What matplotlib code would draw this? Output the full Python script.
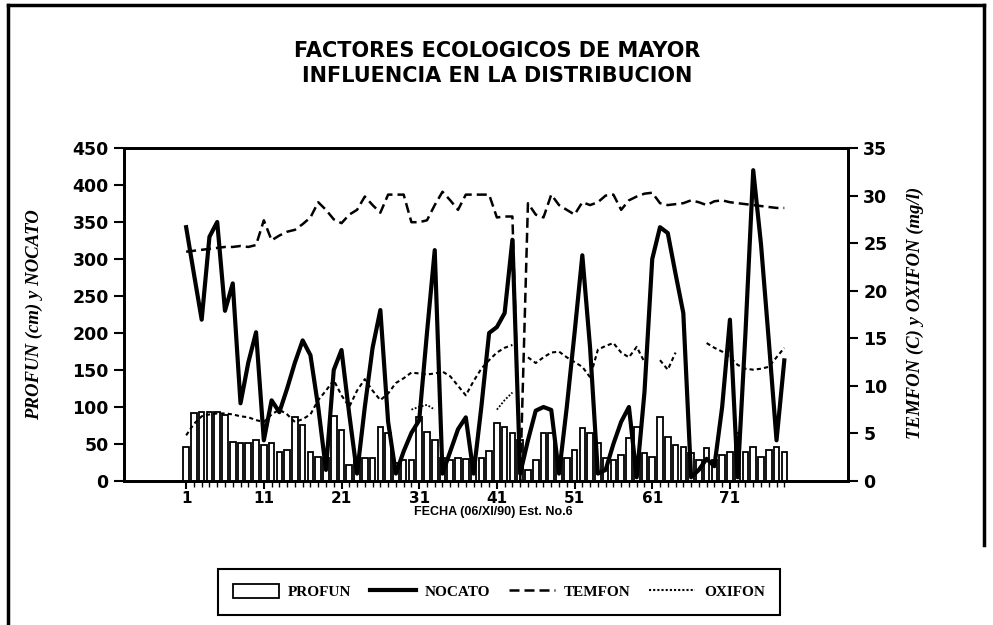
import matplotlib
matplotlib.use('Agg')
import matplotlib.pyplot as plt
import numpy as np
from matplotlib.lines import Line2D
from matplotlib.patches import Patch
from matplotlib import font_manager

nan = np.nan

FECHA = list(range(1, 79))
XTICKS = [1, 11, 21, 31, 41, 51, 61, 71]

PROFUN = [46, 92, 93, 93, 93, 89, 53, 51, 51, 55,
          49, 51, 39, 42, 87, 76, 39, 32, 31, 88,
          69, 22, 31, 31, 31, 73, 65, 25, 28, 28,
          86, 66, 55, 31, 28, 31, 30, 31, 31, 40,
          78, 73, 65, 55, 15, 28, 65, 65, 31, 31,
          42, 72, 65, 51, 31, 28, 35, 58, 73, 38,
          32, 86, 59, 49, 46, 38, 28, 45, 28, 35,
          39, 65, 39, 46, 32, 42, 46, 39]

NOCATO = [343, 280, 218, 330, 350, 230, 267, 105, 160, 201,
          55, 109, 93, 125, 160, 190, 170, 100, 15, 150,
          177, 90, 10, 100, 180, 231, 80, 10, 40, 65,
          82, 200, 312, 10, 40, 70, 86, 10, 100, 200,
          208, 227, 326, 10, 55, 95, 100, 96, 10, 100,
          200, 305, 180, 10, 15, 50, 80, 100, 5, 120,
          300, 343, 335, 280, 227, 5, 15, 30, 20, 100,
          218, 5, 200, 420, 320, 190, 55, 163]

TEMFON = [24.1, 24.2, 24.3, 24.4, 24.5, 24.6, 24.6, 24.7, 24.6, 24.8,
          27.4, 25.3, 25.8, 26.2, 26.4, 27.0, 27.7, 29.3, 28.5, 27.5,
          27.1, 28.0, 28.5, 29.9, 29.0, 28.2, 30.1, 30.1, 30.1, 27.2,
          27.2, 27.4, 29.0, 30.4, 29.5, 28.5, 30.1, 30.1, 30.1, 30.1,
          27.7, 27.8, 27.8, 0.0, 29.2, 28.0, 27.7, 30.1, 29.0, 28.5,
          28.0, 29.3, 29.0, 29.3, 30.0, 30.1, 28.5, 29.5, 29.9, 30.2,
          30.3, 29.2, 29.0, 29.1, 29.2, 29.5, 29.3, 29.0, 29.4, 29.5,
          29.3, 29.2, 29.1, 29.0, 28.9, 28.8, 28.7, 28.7]

OXIFON = [4.8, 6.0, 6.8, 7.0, 7.1, 7.1, 7.0, 6.8, 6.7, 6.4,
          6.2, 7.0, 7.5, 7.0, 6.2, 6.5, 7.0, 8.5, 9.5, 10.6,
          9.0, 7.8, 9.5, 10.7, 9.5, 8.5, 9.2, 10.3, 10.8, 11.4,
          11.3, 11.2, 11.3, 11.5, 11.0, 10.0, 9.0, 10.5, 11.8, 12.7,
          13.5, 14.0, 14.3, nan, 13.0, 12.4, 13.0, 13.5, 13.6, 13.0,
          12.5, 12.0, 10.9, 13.8, 14.2, 14.5, 13.5, 13.0, 14.1, 12.5,
          nan, 12.7, 11.7, 13.5, nan, nan, nan, 14.5, 14.0, 13.6,
          13.0, 12.2, 11.8, 11.7, 11.8, 12.0, 13.0, 14.0]

OXIFON_B = [nan] * 29 + [7.5, 7.8, 8.0, 7.5] + [nan] * 7 + [7.5, 8.5, 9.3] + [nan] * 35

names = {f.name for f in font_manager.fontManager.ttflist}
if 'Liberation Sans Narrow' in names:
    tick_font = ['Liberation Sans Narrow', 'DejaVu Sans']
    ysize, xsize = 16, 13
else:
    tick_font = ['DejaVu Sans']
    ysize, xsize = 12.5, 11

fig = plt.figure(figsize=(9.93, 6.25), dpi=100)
W, H = 993, 625
ax = fig.add_axes([124 / W, 1 - 481 / H, (848 - 124) / W, (481 - 148) / H])

ax.bar(FECHA, PROFUN, width=0.72, facecolor='white', edgecolor='black', linewidth=1.3, zorder=2)
ax.plot(FECHA, NOCATO, color='black', lw=3.0, zorder=3)
ax.set_ylim(0, 450)
ax.set_xlim(-7, 86.2)
ax.set_yticks(range(0, 451, 50))

ax2 = ax.twinx()
ax2.plot(FECHA, TEMFON, color='black', lw=1.8, dashes=(4, 2))
ax2.plot(FECHA, OXIFON, color='black', lw=1.5, dashes=(2, 1.5))
ax2.plot(FECHA, OXIFON_B, color='black', lw=1.3, dashes=(1, 1))
ax2.set_ylim(0, 35)
ax2.set_yticks(range(0, 36, 5))

ax.set_xticks(XTICKS)
ax.set_xticks(FECHA, minor=True)
ax.tick_params(axis='x', which='major', direction='out', length=6, width=1.5, pad=1)
ax.tick_params(axis='x', which='minor', direction='out', length=4, width=1)
ax.tick_params(axis='y', direction='out', length=7, width=1.5, pad=4)
ax2.tick_params(axis='y', direction='out', length=7, width=1.5, pad=4)

for a in (ax, ax2):
    for s in a.spines.values():
        s.set_linewidth(2)
        s.set_color('black')

for lab in ax.get_yticklabels() + ax2.get_yticklabels():
    lab.set_fontfamily(tick_font)
    lab.set_fontweight('bold')
    lab.set_fontsize(ysize)
for lab in ax.get_xticklabels():
    lab.set_fontfamily(tick_font)
    lab.set_fontweight('bold')
    lab.set_fontsize(xsize)

ax.set_xlabel('FECHA (06/XI/90) Est. No.6', fontfamily=['Liberation Sans', 'DejaVu Sans'],
              fontweight='bold', fontsize=9)
ax.xaxis.set_label_coords((493 - 124) / 724, -(506 - 481) / 333)
ax.set_ylabel('PROFUN (cm) y NOCATO', fontfamily=['Liberation Serif', 'DejaVu Serif'],
              fontweight='bold', fontstyle='italic', fontsize=13.5)
ax.yaxis.set_label_coords((43 - 124) / 724, (481 - 315) / 333)
ax2.set_ylabel('TEMFON (C) y OXIFON (mg/l)', fontfamily=['Liberation Serif', 'DejaVu Serif'],
               fontweight='bold', fontstyle='italic', fontsize=13.5, rotation=90)
ax2.yaxis.set_label_coords((907 - 124) / 724, (481 - 313) / 333)

fig.text(497 / W, 1 - 63.5 / H, 'FACTORES ECOLOGICOS DE MAYOR\nINFLUENCIA EN LA DISTRIBUCION',
         ha='center', va='center', fontfamily='DejaVu Sans', fontweight='bold',
         fontsize=15, linespacing=1.3)

handles = [Patch(facecolor='white', edgecolor='black', linewidth=1.3),
           Line2D([], [], color='black', lw=3.0),
           Line2D([], [], color='black', lw=1.8, dashes=(4, 2)),
           Line2D([], [], color='black', lw=1.5, dashes=(1, 1))]
labels = ['PROFUN', 'NOCATO', 'TEMFON', 'OXIFON']
leg = fig.legend(handles, labels, loc='upper left', bbox_to_anchor=(218 / W, 1 - 569 / H),
                 borderaxespad=0,
                 ncol=4, frameon=True, fancybox=False, edgecolor='black', framealpha=1,
                 handlelength=3, handleheight=1.0, columnspacing=1.2, handletextpad=0.6,
                 borderpad=1.0,
                 prop={'family': ['Liberation Serif', 'DejaVu Serif'], 'weight': 'bold', 'size': 11})
leg.get_frame().set_linewidth(1.5)

fig.add_artist(Line2D([8 / W, 8 / W], [0, 1 - 5 / H], transform=fig.transFigure, color='black', lw=2.5))
fig.add_artist(Line2D([8 / W, 984 / W], [1 - 5 / H, 1 - 5 / H], transform=fig.transFigure, color='black', lw=2.5))
fig.add_artist(Line2D([984 / W, 984 / W], [1 - 5 / H, 1 - 545 / H], transform=fig.transFigure, color='black', lw=2.5))

fig.savefig('out.png', dpi=100)
